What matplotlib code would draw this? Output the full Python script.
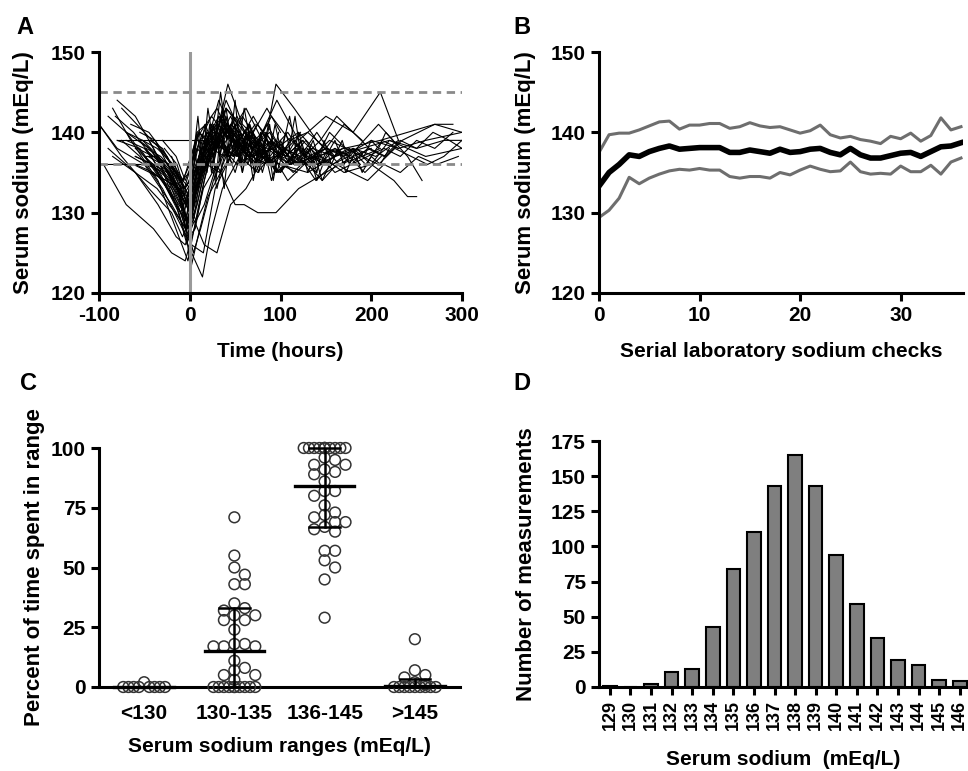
import numpy as np
import matplotlib.pyplot as plt

plt.rcParams['font.family'] = ['Liberation Sans', 'DejaVu Sans']
plt.rcParams['font.weight'] = 'bold'
plt.rcParams['axes.labelweight'] = 'bold'
plt.rcParams['axes.unicode_minus'] = False

# ---- panel A: individual patient sodium trajectories (hours, mEq/L)
patients = [
    ([-100, -80, -50, -20, -5, 5, 20, 35, 50, 70, 90, 110, 130, 150, 170, 200, 230, 260, 300],
     [141, 138, 136, 131, 128, 132, 138, 140, 139, 137, 138, 136, 137, 138, 137, 139, 138, 139, 140]),
    ([-80, -60, -40, -15, -3, 8, 25, 40, 60, 80, 100, 120, 140, 160, 180, 200, 220, 250, 280, 300],
     [144, 142, 138, 131, 126, 133, 139, 143, 140, 137, 135, 138, 136, 137, 138, 136, 139, 138, 139, 139]),
    ([-85, -65, -35, -12, -2, 10, 22, 38, 55, 75, 95, 115],
     [143, 139, 134, 127, 124, 131, 137, 141, 138, 136, 139, 137]),
    ([-90, -70, -50, -25, -10, 0, 12, 30, 45, 65, 85, 100],
     [142, 140, 137, 133, 130, 129, 135, 138, 141, 139, 143, 140]),
    ([-75, -55, -30, -8, 2, 15, 28, 45, 60, 85, 110, 140, 170, 210, 240, 270, 300],
     [139, 137, 133, 128, 126, 125, 133, 137, 140, 138, 136, 137, 138, 139, 140, 141, 140]),
    ([-60, -40, -20, -5, 5, 18, 32, 50, 70, 90, 120, 150, 180],
     [138, 136, 132, 129, 134, 139, 142, 140, 137, 139, 136, 138, 137]),
    ([-50, -35, -18, -6, 3, 14, 30, 42, 58, 76, 96, 120, 150, 180, 210, 230],
     [137, 135, 132, 130, 135, 138, 140, 146, 141, 139, 144, 139, 142, 140, 145, 139]),
    ([-45, -30, -15, -4, 4, 12, 26, 40, 55, 70, 90],
     [139, 136, 133, 131, 132, 136, 138, 141, 139, 142, 138]),
    ([-40, -25, -10, -1, 6, 16, 28, 44, 60, 78],
     [136, 133, 130, 127, 128, 134, 139, 137, 140, 138]),
    ([-95, -70, -40, -20, -5, 5, 15, 30, 50, 60, 75, 95, 120, 150, 180, 200],
     [136, 131, 128, 125, 124, 128, 133, 136, 131, 131, 130, 130, 133, 135, 137, 138]),
    ([-70, -50, -30, -12, -3, 6, 20, 35, 52, 70, 88, 105, 125],
     [139, 138, 135, 132, 129, 133, 137, 139, 142, 138, 140, 137, 139]),
    ([-30, -15, -5, 2, 10, 25, 40, 60, 80, 100, 130, 160, 190, 220, 260, 300],
     [139, 137, 134, 136, 140, 138, 144, 139, 137, 136, 135, 137, 138, 139, 137, 138]),
    ([-65, -45, -25, -10, -2, 8, 18, 32, 48, 65, 85, 110, 135, 160],
     [141, 140, 137, 133, 128, 131, 136, 142, 139, 137, 141, 136, 138, 137]),
    ([-55, -38, -20, -8, 1, 9, 20, 34, 50, 66, 80, 95, 115, 140, 165, 190],
     [140, 139, 135, 131, 123, 127, 132, 135, 138, 141, 137, 146, 143, 139, 136, 137]),
    ([-35, -20, -8, 0, 10, 22, 36, 52, 70, 90],
     [137, 135, 132, 130, 134, 137, 141, 138, 136, 139]),
    ([-25, -12, -3, 4, 14, 26, 42, 58, 75, 95, 118, 140],
     [136, 134, 131, 133, 137, 140, 138, 142, 139, 135, 137, 135]),
    ([-100, -75, -45, -20, -8, 3, 15, 30, 48, 68, 90, 112, 135, 158, 180, 205, 230],
     [141, 137, 133, 130, 127, 130, 135, 139, 137, 138, 136, 139, 137, 136, 138, 137, 139]),
    ([-60, -42, -22, -10, -1, 7, 17, 29, 45, 62, 80, 100, 125, 150],
     [137, 136, 134, 131, 129, 133, 138, 141, 140, 143, 139, 137, 136, 138]),
    ([-48, -32, -16, -6, 2, 11, 24, 38, 54, 72],
     [138, 137, 135, 133, 136, 139, 142, 140, 138, 141]),
    ([-20, -8, 0, 8, 18, 30, 46, 64, 84, 104, 128],
     [135, 134, 136, 140, 141, 143, 139, 137, 140, 136, 138]),
    ([-80, -55, -30, -12, -2, 6, 14, 22, 36, 55, 75, 95, 120, 145, 170, 200, 225, 240, 250],
     [139, 138, 134, 130, 126, 124, 122, 127, 133, 137, 135, 138, 140, 137, 135, 136, 134, 132, 132]),
    ([-42, -26, -12, -3, 5, 13, 25, 40, 56, 72, 90, 110, 130, 150, 170, 190],
     [135, 134, 133, 132, 135, 138, 139, 143, 141, 138, 142, 139, 140, 138, 141, 139]),
    ([-66, -48, -28, -14, -4, 4, 16, 28, 42, 58, 74, 92, 108, 126, 144, 160, 178, 196, 214, 232, 250, 270, 290],
     [136, 136, 135, 133, 131, 135, 137, 139, 141, 138, 136, 137, 134, 136, 137, 135, 136, 137, 138, 137, 139, 138, 140]),
    ([-90, -60, -35, -15, -5, 5, 16, 30, 45, 62, 82, 100, 118],
     [138, 135, 131, 127, 126, 129, 126, 125, 131, 133, 137, 136, 135]),
    ([-52, -36, -18, -7, 1, 10, 21, 35, 51, 68, 86, 104, 122, 140, 158, 176, 194, 212, 230],
     [139, 138, 136, 134, 137, 140, 139, 138, 141, 137, 136, 138, 137, 140, 137, 138, 136, 139, 138]),
    ([-30, -18, -7, 1, 9, 19, 33, 47, 63, 80, 98, 116, 134],
     [136, 134, 133, 131, 134, 136, 135, 139, 138, 140, 137, 139, 136]),
    ([-75, -50, -25, -10, -1, 8, 19, 31, 45, 61, 78, 96, 114, 132, 150, 168],
     [143, 140, 137, 134, 132, 136, 140, 139, 142, 138, 136, 137, 135, 137, 136, 138]),
    ([-38, -22, -9, 0, 7, 17, 27, 39, 53, 69, 86, 103, 121, 139, 157, 175, 193, 211],
     [137, 136, 134, 135, 139, 141, 138, 140, 137, 139, 136, 138, 137, 134, 136, 137, 135, 137]),
    ([-58, -40, -22, -8, 3, 12, 24, 37, 52, 68, 84, 100, 118, 136, 154, 172, 190, 208, 226, 244, 262, 280, 300],
     [138, 137, 135, 132, 134, 137, 139, 138, 136, 137, 139, 138, 136, 137, 139, 138, 137, 136, 138, 137, 136, 137, 139]),
    ([-15, -5, 3, 11, 21, 33, 46, 60, 76, 92, 108, 126, 144, 162, 180, 198, 216, 234, 252, 270, 290],
     [135, 133, 135, 139, 140, 138, 141, 139, 137, 138, 140, 137, 139, 142, 140, 138, 137, 139, 140, 141, 141]),
    ([-46, -30, -14, -4, 4, 13, 23, 36, 50, 66, 82, 98, 114, 130, 146, 162, 178, 196, 214, 232, 252, 272, 296],
     [137, 136, 133, 131, 133, 137, 140, 142, 139, 137, 138, 135, 137, 136, 134, 136, 135, 134, 136, 135, 137, 136, 137]),
    ([-70, -45, -22, -9, 0, 9, 20, 34, 48, 64, 80, 96, 112, 128, 144, 160, 176, 192, 208, 224, 240, 256],
     [140, 138, 135, 132, 130, 133, 137, 139, 137, 140, 138, 135, 137, 139, 136, 138, 137, 139, 141, 139, 137, 134]),
    ([-34, -20, -8, 1, 10, 20, 32, 46, 60, 74, 90, 106, 122],
     [138, 136, 134, 133, 137, 139, 144, 140, 138, 141, 139, 137, 140]),
    ([-62, -44, -26, -11, -1, 7, 16, 27, 39, 52, 67, 83, 100, 118, 136, 154, 172, 190, 210],
     [136, 135, 134, 133, 131, 129, 131, 135, 138, 137, 140, 137, 135, 138, 136, 140, 138, 137, 138]),
    ([-85, -60, -36, -16, -4, 4, 13, 24, 38, 53, 70, 88, 106, 124, 142, 160, 178, 196, 214, 232, 250, 268, 286, 300],
     [137, 135, 133, 130, 128, 131, 136, 138, 137, 139, 136, 138, 137, 139, 137, 138, 136, 138, 137, 139, 138, 140, 139, 138]),
    ([-80, -40, 0, 20],
     [139, 139, 139, 139]),
    ([-100, -60, -40, -20, -6, 4, 12, 26, 40],
     [136, 136, 135, 133, 130, 125, 128, 134, 138]),
    ([-20, -10, -3, 3, 9, 15, 22, 29, 36, 43, 50, 57, 64, 71, 78, 85],
     [137, 134, 131, 136, 142, 135, 141, 134, 143, 137, 144, 136, 141, 135, 140, 137]),
    ([-50, -30, -12, -4, 2, 8, 14, 20, 27, 34, 41, 48, 55, 62, 70, 78, 86, 94, 102, 110],
     [138, 136, 133, 129, 133, 140, 136, 143, 138, 145, 139, 142, 136, 140, 134, 139, 136, 141, 137, 139]),
    ([-35, -22, -10, -2, 4, 10, 17, 24, 31, 38, 45, 52, 60, 68, 76, 84, 92, 100, 108, 116, 124, 132, 140,
      148, 156, 164, 172, 180, 188],
     [136, 135, 132, 128, 131, 137, 141, 135, 139, 133, 141, 137, 143, 138, 135, 140, 134, 139, 137, 142,
      136, 138, 135, 139, 136, 138, 135, 137, 136]),
    ([-28, -14, -6, 0, 5, 11, 18, 26, 34, 42, 50, 58, 66, 74, 82, 90, 98],
     [138, 136, 133, 134, 138, 134, 140, 137, 142, 136, 139, 135, 141, 137, 138, 136, 140]),
    ([-70, -52, -34, -18, -8, -2, 5, 12, 19, 26, 33, 40, 47, 54],
     [140, 139, 137, 134, 131, 129, 133, 138, 135, 141, 137, 142, 138, 140]),
    ([-10, 0, 10, 20, 30, 40, 50, 60, 70, 80, 90, 100, 110, 120, 130, 140, 150, 160, 170, 180, 190, 200,
      210, 220],
     [134, 132, 136, 139, 135, 141, 138, 136, 140, 135, 139, 137, 142, 136, 138, 134, 137, 139, 136, 138,
      135, 137, 136, 138]),
    ([-60, -40, -25, -12, -4, 3, 10, 18, 26, 34, 42, 50, 58, 66, 74, 82, 90, 98, 106, 114, 122, 130, 138,
      146, 154],
     [137, 136, 135, 132, 128, 131, 134, 139, 136, 140, 137, 141, 135, 139, 136, 138, 134, 137, 140, 136,
      139, 135, 137, 134, 136]),
    ([-44, -30, -16, -6, 1, 8, 16, 24, 32, 40, 48, 56, 64, 72, 80, 88, 96, 104, 112, 120, 128, 136, 144,
      152, 160, 168, 176, 184, 192, 200, 208, 216, 224],
     [139, 138, 135, 133, 134, 138, 137, 141, 139, 143, 137, 140, 136, 139, 137, 141, 135, 138, 136, 140,
      137, 139, 136, 138, 137, 139, 136, 138, 137, 139, 138, 140, 139]),
    ([-82, -62, -42, -24, -10, -2, 6, 14, 22, 30, 40, 50, 60, 70, 80],
     [142, 140, 137, 133, 130, 127, 130, 134, 137, 133, 138, 135, 139, 136, 137]),
    ([-56, -44, -32, -20, -10, -3, 4, 11, 18, 25, 32, 40],
     [139, 138, 136, 133, 130, 132, 129, 134, 138, 136, 140, 137]),
    ([-48, -36, -24, -14, -6, 0, 7, 15, 23, 31, 39, 47, 55, 63],
     [137, 137, 136, 134, 132, 130, 135, 139, 137, 141, 138, 136, 139, 137]),
]
normal_low = 136
normal_high = 145

# ---- panel B: mean and +/- SD over serial checks
checks = np.arange(37)
mean_na = [133.3, 135.0, 136.0, 137.2, 137.0, 137.6, 138.0, 138.3, 137.9, 138.0, 138.1, 138.1, 138.1,
           137.5, 137.5, 137.8, 137.6, 137.4, 137.9, 137.5, 137.6, 137.9, 138.0, 137.5, 137.2, 138.0,
           137.2, 136.8, 136.8, 137.1, 137.4, 137.5, 137.0, 137.6, 138.2, 138.3, 138.7]
upper_na = [137.5, 139.7, 139.9, 139.9, 140.3, 140.8, 141.3, 141.4, 140.4, 140.9, 140.9, 141.1, 141.1,
            140.5, 140.7, 141.2, 140.8, 140.6, 140.7, 140.3, 139.9, 140.2, 140.9, 139.7, 139.3, 139.5,
            139.1, 138.9, 138.6, 139.5, 139.2, 139.9, 138.9, 139.6, 141.8, 140.3, 140.7]
lower_na = [129.4, 130.3, 131.8, 134.4, 133.6, 134.3, 134.8, 135.2, 135.4, 135.3, 135.5, 135.3, 135.3,
            134.5, 134.3, 134.5, 134.5, 134.3, 135.0, 134.7, 135.3, 135.8, 135.4, 135.1, 135.2, 136.3,
            135.1, 134.8, 134.9, 134.8, 135.8, 135.1, 135.1, 135.9, 134.8, 136.3, 136.8]

# ---- panel C: percent of time in each range, per patient
ranges = ['<130', '130-135', '136-145', '>145']
pct_lt130 = [0, 0, 0, 0, 0, 0, 0, 0, 2]
pct_130_135 = [71, 55, 50, 47, 43, 43, 35, 33, 32, 30, 30, 28, 28, 24, 18, 18, 17, 17, 17,
               11, 8, 7, 5, 5, 3, 0, 0, 0, 0, 0, 0, 0, 0, 0, 0]
pct_136_145 = [100, 100, 100, 100, 100, 100, 100, 100, 100, 100, 100, 100, 96, 95, 93, 93, 91,
               90, 89, 86, 82, 82, 80, 76, 73, 72, 71, 69, 69, 67, 66, 65, 57, 57, 53, 50, 45, 29]
pct_gt145 = [20, 7, 5, 4, 2, 1, 0, 0, 0, 0, 0, 0, 0, 0, 0]
medians = [0, 15, 84, 0.5]
q1 = [0, 0, 67, 0]
q3 = [0, 33, 100, 3.5]

# ---- panel D: histogram of measurements
sodium_vals = np.arange(129, 147)
counts = [1, 0, 2, 11, 13, 43, 84, 110, 143, 165, 143, 94, 59, 35, 19, 16, 5, 4]

W, H = 968, 771
fig = plt.figure(figsize=(W / 100, H / 100), dpi=100)


def style(ax, size=15):
    for s in ['top', 'right']:
        ax.spines[s].set_visible(False)
    for s in ['left', 'bottom']:
        ax.spines[s].set_linewidth(2.2)
    ax.tick_params(direction='out', length=6, width=2.2, labelsize=size)
    for lab in ax.get_xticklabels() + ax.get_yticklabels():
        lab.set_fontweight('bold')


def pos(x0, x1, y0, y1):
    return [x0 / W, 1 - y1 / H, (x1 - x0) / W, (y1 - y0) / H]


# A
axA = fig.add_axes(pos(99, 462, 52, 293))
for t, v in patients:
    axA.plot(t, v, color='black', lw=0.8)
axA.axhline(normal_high, color='#8a8a8a', lw=2, ls=(0, (3, 2)))
axA.axhline(normal_low, color='#8a8a8a', lw=2, ls=(0, (3, 2)))
axA.axvline(0, color='#9a9a9a', lw=2.2)
axA.set_xlim(-100, 300)
axA.set_ylim(120, 150)
axA.set_xticks([-100, 0, 100, 200, 300])
axA.set_yticks([120, 130, 140, 150])
axA.set_xlabel('Time (hours)', fontsize=15, labelpad=12)
axA.set_ylabel('Serum sodium (mEq/L)', fontsize=16, labelpad=12)
style(axA)

# B
axB = fig.add_axes(pos(599, 963, 52, 293))
axB.plot(checks, upper_na, color='#6e6e6e', lw=2.2)
axB.plot(checks, lower_na, color='#6e6e6e', lw=2.2)
axB.plot(checks, mean_na, color='black', lw=4)
axB.set_xlim(0, 36.2)
axB.set_ylim(120, 150)
axB.set_xticks([0, 10, 20, 30])
axB.set_yticks([120, 130, 140, 150])
axB.set_xlabel('Serial laboratory sodium checks', fontsize=15, labelpad=12)
axB.set_ylabel('Serum sodium (mEq/L)', fontsize=16, labelpad=11)
style(axB)

# C
axC = fig.add_axes(pos(99, 460, 448, 687))
axC.set_xlim(-0.5, 3.5)
axC.set_ylim(0, 100)
px_x = 361 / 4.0
px_y = 239 / 100.0
diam = 9.5


def swarm(vals, center):
    placed = []
    xs = []
    for v in sorted(vals, reverse=True):
        best, best_d = 0.0, -1
        done = False
        for k in range(0, 5):
            for sgn in ([1] if k == 0 else [1, -1]):
                off = sgn * k * diam * 0.55
                d = min([np.hypot(off - px, (v - pv) * px_y) for px, pv in placed] or [99])
                if d >= diam * 0.95:
                    best, done = off, True
                    break
                if d > best_d:
                    best, best_d = off, d
            if done:
                break
        placed.append((best, v))
        xs.append(center + best / px_x)
    return xs, sorted(vals, reverse=True)


for i, vals in enumerate([pct_lt130, pct_130_135, pct_136_145, pct_gt145]):
    xs, ys = swarm(vals, i)
    axC.scatter(xs, ys, s=60, facecolors='none', edgecolors='#333333', linewidths=1.1,
                clip_on=False, zorder=3)
for i in range(4):
    axC.plot([i - 0.33, i + 0.33], [medians[i], medians[i]], color='black', lw=2.4, zorder=4, clip_on=False)
    if q3[i] > q1[i]:
        axC.plot([i, i], [q1[i], q3[i]], color='black', lw=1.8, zorder=4)
        for q in (q1[i], q3[i]):
            axC.plot([i - 0.17, i + 0.17], [q, q], color='black', lw=1.8, zorder=4, clip_on=False)
axC.set_xticks(range(4))
axC.set_xticklabels(ranges)
axC.set_yticks([0, 25, 50, 75, 100])
axC.set_xlabel('Serum sodium ranges (mEq/L)', fontsize=15, labelpad=10)
axC.set_ylabel('Percent of time spent in range', fontsize=16, labelpad=4)
style(axC)
axC.tick_params(axis='x', length=0, pad=12)

# D
axD = fig.add_axes(pos(599, 968, 441, 687))
axD.bar(sodium_vals, counts, width=0.66, color='#7f7f7f', edgecolor='black', linewidth=1.5)
axD.set_xlim(128.47, 146.4)
axD.set_ylim(0, 175)
axD.set_xticks(sodium_vals)
axD.set_yticks(range(0, 176, 25))
axD.set_xlabel('Serum sodium  (mEq/L)', fontsize=15, labelpad=14)
axD.set_ylabel('Number of measurements', fontsize=16, labelpad=10)
style(axD)
axD.tick_params(axis='x', labelrotation=90, labelsize=13)

for letter, x, y in [('A', 16, 16), ('B', 513, 16), ('C', 20, 372), ('D', 513, 372)]:
    fig.text(x / W, 1 - y / H, letter, fontsize=17, fontweight='bold', va='top', ha='left')

fig.savefig('out.png', dpi=100)
